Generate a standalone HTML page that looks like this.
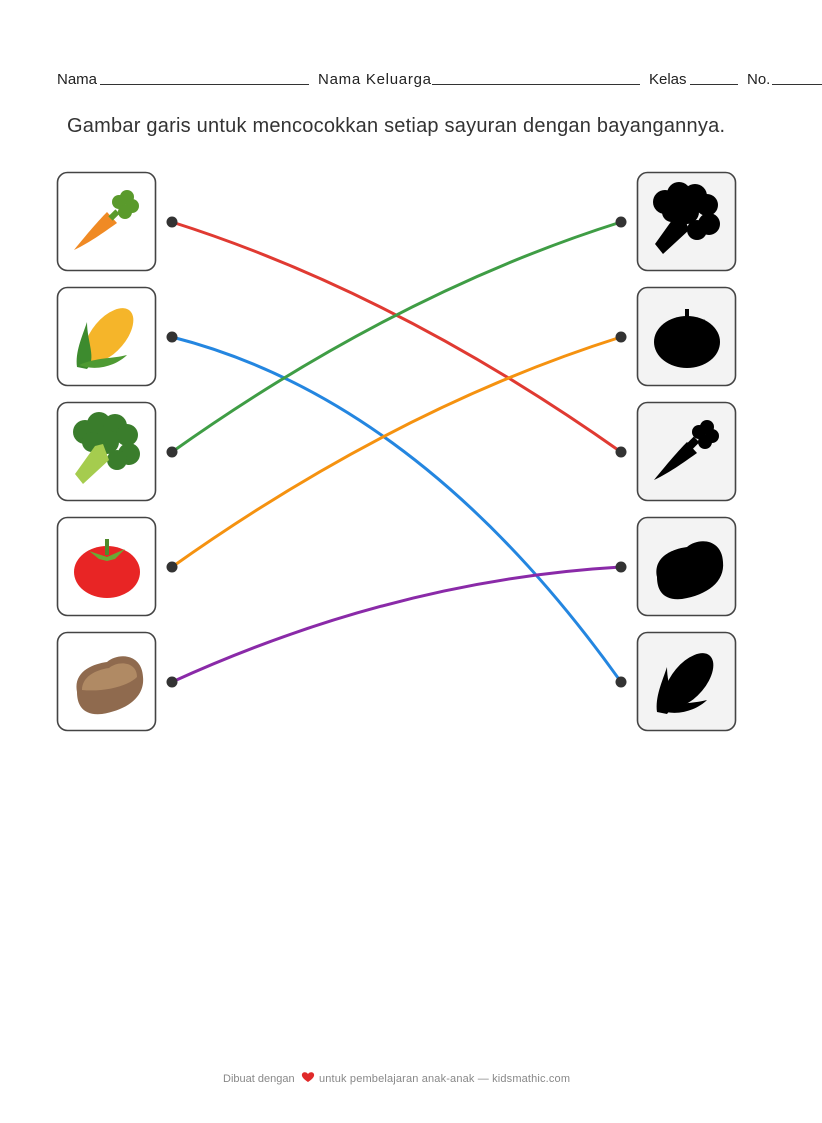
<!DOCTYPE html>
<html><head><meta charset="utf-8"><style>
body{margin:0;background:#fff;width:822px;height:1123px;overflow:hidden}
svg{display:block}
text{font-family:"Liberation Sans",sans-serif}
</style></head><body>
<svg width="822" height="1123" viewBox="0 0 822 1123" xmlns="http://www.w3.org/2000/svg">
<defs>
<g id="carrot">
  <path d="M17,78 C30,62 42,48 50,40 L60,51 C50,58 34,70 17,78 Z"/>
  <rect x="52" y="36" width="8" height="10" transform="rotate(45 56 41)"/>
  <circle cx="62" cy="30" r="7"/><circle cx="70" cy="25" r="7"/><circle cx="75" cy="34" r="7"/><circle cx="68" cy="40" r="7"/>
</g>
<g id="corn">
  <ellipse cx="52" cy="48" rx="17" ry="32" transform="rotate(40 52 48)"/>
  <path d="M20,80 L30,82 C40,72 30,55 30,35 C25,50 18,65 20,80 Z"/>
  <path d="M22,78 C40,85 60,78 70,68 C55,72 40,70 22,78 Z"/>
</g>
<g id="broc">
  <circle cx="28" cy="30" r="12"/><circle cx="42" cy="22" r="12"/><circle cx="58" cy="24" r="12"/><circle cx="70" cy="33" r="11"/>
  <circle cx="72" cy="52" r="11"/><circle cx="60" cy="58" r="10"/><circle cx="35" cy="40" r="10"/><circle cx="50" cy="40" r="12"/>
  <path d="M18,72 L26,82 L52,58 L46,42 L38,44 Z"/>
</g>
<g id="tomato">
  <ellipse cx="50" cy="55" rx="33" ry="26"/>
  <rect x="48" y="22" width="4" height="16"/>
  <path d="M32,34 L50,40 L68,32 L58,42 L50,44 L42,42 Z"/>
</g>
<g id="potato">
  <path d="M20,60 C16,40 35,32 50,30 C62,20 85,22 86,45 C88,65 70,78 45,82 C25,84 20,72 20,60 Z"/>
</g>
</defs>

<g fill="#222" font-size="15">
<text x="57" y="84">Nama</text>
<text x="318" y="84" textLength="113">Nama Keluarga</text>
<text x="649" y="84">Kelas</text>
<text x="747" y="84">No.</text>
</g>
<g stroke="#333" stroke-width="1">
<line x1="100" y1="84.5" x2="309" y2="84.5"/>
<line x1="432" y1="84.5" x2="640" y2="84.5"/>
<line x1="690" y1="84.5" x2="738" y2="84.5"/>
<line x1="772" y1="84.5" x2="822" y2="84.5"/>
</g>
<text x="67" y="132" font-size="20" fill="#333" textLength="658">Gambar garis untuk mencocokkan setiap sayuran dengan bayangannya.</text>

<g stroke="#444" stroke-width="1.6" fill="#fff">
<rect x="57.5" y="172.5" width="98" height="98" rx="10"/>
<rect x="57.5" y="287.5" width="98" height="98" rx="10"/>
<rect x="57.5" y="402.5" width="98" height="98" rx="10"/>
<rect x="57.5" y="517.5" width="98" height="98" rx="10"/>
<rect x="57.5" y="632.5" width="98" height="98" rx="10"/>
</g>
<g stroke="#444" stroke-width="1.6" fill="#f3f3f3">
<rect x="637.5" y="172.5" width="98" height="98" rx="10"/>
<rect x="637.5" y="287.5" width="98" height="98" rx="10"/>
<rect x="637.5" y="402.5" width="98" height="98" rx="10"/>
<rect x="637.5" y="517.5" width="98" height="98" rx="10"/>
<rect x="637.5" y="632.5" width="98" height="98" rx="10"/>
</g>

<g transform="translate(57,172)">
  <path d="M17,78 C30,62 42,48 50,40 L60,51 C50,58 34,70 17,78 Z" fill="#f08a24"/>
  <g fill="#5a9a2c"><circle cx="62" cy="30" r="7"/><circle cx="70" cy="25" r="7"/><circle cx="75" cy="34" r="7"/><circle cx="68" cy="40" r="7"/><rect x="54" y="38" width="6" height="10" transform="rotate(45 57 43)"/></g>
</g>
<g transform="translate(57,287)">
  <ellipse cx="52" cy="48" rx="17" ry="32" transform="rotate(40 52 48)" fill="#f5b52a"/>
  <path d="M20,80 L30,82 C40,72 30,55 30,35 C25,50 18,65 20,80 Z" fill="#3d8b2e"/>
  <path d="M22,78 C40,85 60,78 70,68 C55,72 40,70 22,78 Z" fill="#4e9a32"/>
</g>
<g transform="translate(57,402)">
  <g fill="#3a7d2c"><circle cx="28" cy="30" r="12"/><circle cx="42" cy="22" r="12"/><circle cx="58" cy="24" r="12"/><circle cx="70" cy="33" r="11"/><circle cx="72" cy="52" r="11"/><circle cx="60" cy="58" r="10"/><circle cx="35" cy="40" r="10"/><circle cx="50" cy="40" r="12"/></g>
  <path d="M18,72 L26,82 L52,58 L46,42 L38,44 Z" fill="#a5cc4e"/>
</g>
<g transform="translate(57,517)">
  <ellipse cx="50" cy="55" rx="33" ry="26" fill="#e82525"/>
  <rect x="48" y="22" width="4" height="16" fill="#4f8a2c"/>
  <path d="M32,34 L50,40 L68,32 L58,42 L50,44 L42,42 Z" fill="#6aaa35"/>
</g>
<g transform="translate(57,632)">
  <path d="M20,60 C16,40 35,32 50,30 C62,20 85,22 86,45 C88,65 70,78 45,82 C25,84 20,72 20,60 Z" fill="#8f6a4e"/>
  <path d="M25,58 C25,45 38,38 52,36 C62,28 80,30 80,45 C70,55 45,60 25,58 Z" fill="#b08a64"/>
</g>

<g fill="#000">
<use href="#broc" transform="translate(637,172)"/>
<use href="#tomato" transform="translate(637,287)"/>
<use href="#carrot" transform="translate(637,402)"/>
<use href="#potato" transform="translate(637,517)"/>
<use href="#corn" transform="translate(637,632)"/>
</g>

<g fill="none" stroke-width="3">
<path d="M172,222 Q396,293 621,452" stroke="#e03a32"/>
<path d="M172,337 Q420,400 621,682" stroke="#2486e0"/>
<path d="M172,452 Q396,293 621,222" stroke="#3f9d45"/>
<path d="M172,567 Q396,408 621,337" stroke="#f59210"/>
<path d="M172,682 Q396,580 621,567" stroke="#8a2aa8"/>
</g>
<g fill="#333">
<circle cx="172" cy="222" r="5.5"/><circle cx="172" cy="337" r="5.5"/><circle cx="172" cy="452" r="5.5"/><circle cx="172" cy="567" r="5.5"/><circle cx="172" cy="682" r="5.5"/>
<circle cx="621" cy="222" r="5.5"/><circle cx="621" cy="337" r="5.5"/><circle cx="621" cy="452" r="5.5"/><circle cx="621" cy="567" r="5.5"/><circle cx="621" cy="682" r="5.5"/>
</g>

<text x="223" y="1082" font-size="11" fill="#888">Dibuat dengan</text>
<path d="M308,1074 C306,1071 301,1072 302,1076 C303,1079 308,1082 308,1082 C308,1082 313,1079 314,1076 C315,1072 310,1071 308,1074 Z" fill="#e02a2a"/>
<text x="319" y="1082" font-size="11" fill="#888" textLength="251">untuk pembelajaran anak-anak — kidsmathic.com</text>
</svg>
</body></html>
